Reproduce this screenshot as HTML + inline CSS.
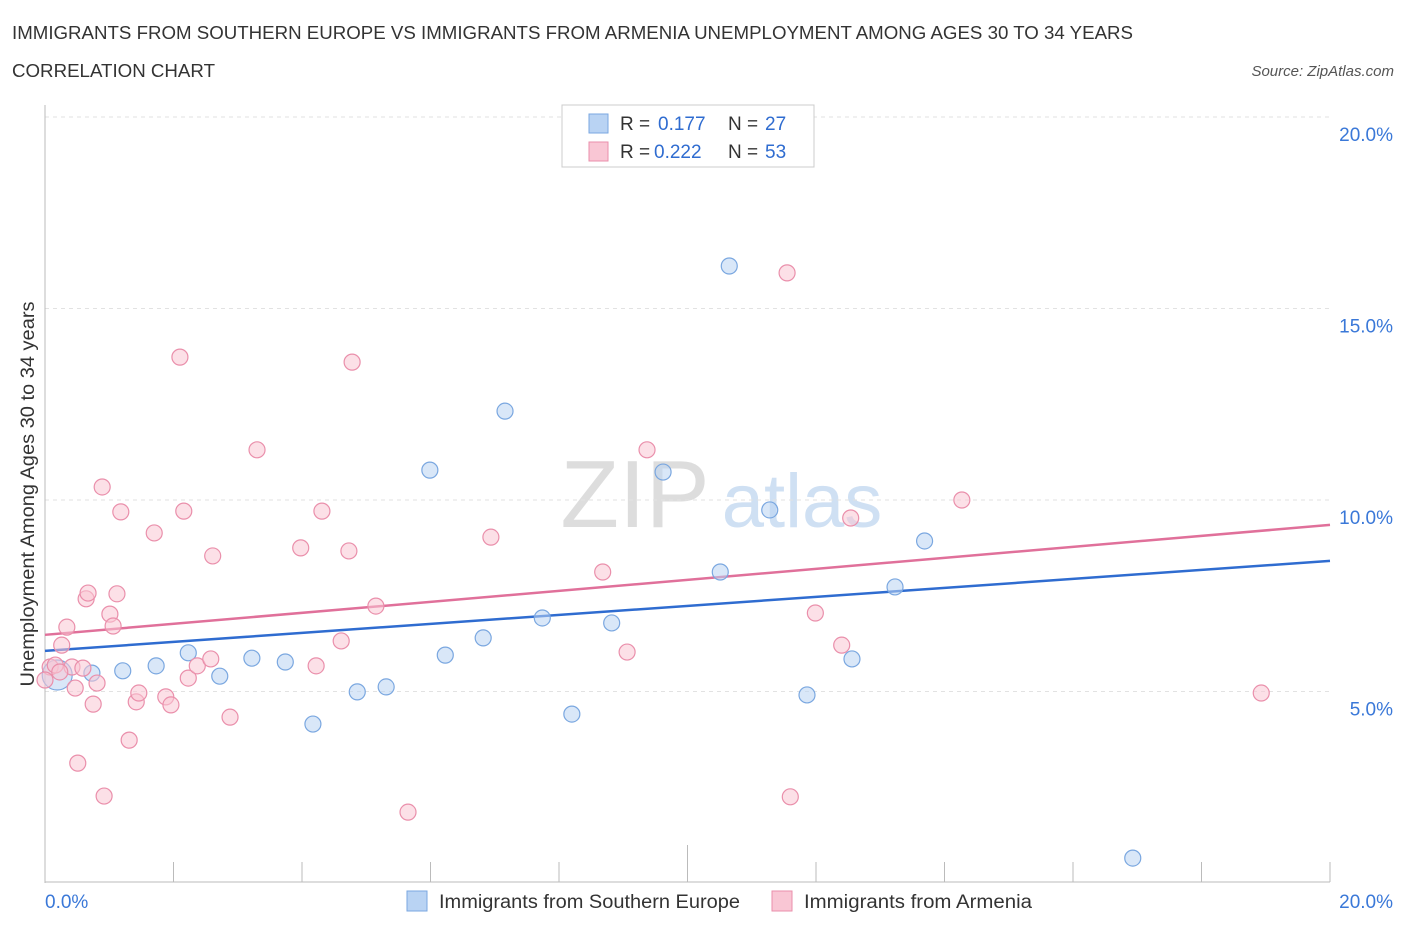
<!DOCTYPE html>
<html><head><meta charset="utf-8"><style>
body{margin:0;background:#fff;font-family:"Liberation Sans",sans-serif;}
svg text{font-family:"Liberation Sans",sans-serif;}
</style></head><body>
<svg id="chart" width="1406" height="930" xmlns="http://www.w3.org/2000/svg">
<text x="12" y="39" font-size="18" fill="#333" textLength="1121" lengthAdjust="spacingAndGlyphs">IMMIGRANTS FROM SOUTHERN EUROPE VS IMMIGRANTS FROM ARMENIA UNEMPLOYMENT AMONG AGES 30 TO 34 YEARS</text>
<text x="12" y="77" font-size="18" fill="#333" textLength="203" lengthAdjust="spacingAndGlyphs">CORRELATION CHART</text>
<text x="1394" y="76" font-size="15" fill="#555" font-style="italic" text-anchor="end">Source: ZipAtlas.com</text>
<g>
<text x="635" y="527" font-size="96" fill="#ddd" font-family="Liberation Serif,serif" text-anchor="middle">ZIP</text>
<text x="802" y="527" font-size="76" fill="#cfe0f3" text-anchor="middle">atlas</text>
</g>
<g id="grid"></g>
<g id="axes"></g>
<g id="lines"></g>
<g id="points"></g>
<text transform="translate(34,494) rotate(-90)" font-size="19" fill="#333" text-anchor="middle" textLength="385" lengthAdjust="spacingAndGlyphs">Unemployment Among Ages 30 to 34 years</text>
<g>
<rect x="562" y="105" width="252" height="62" fill="#fff" stroke="#ccc"/>
<rect x="589" y="114" width="19" height="19" fill="#b9d3f3" stroke="#7aa7e0"/>
<text x="620" y="130" font-size="19" fill="#333">R =</text>
<text x="658" y="130" font-size="19" fill="#2f6cd0">0.177</text>
<text x="728" y="130" font-size="19" fill="#333">N =</text>
<text x="765" y="130" font-size="19" fill="#2f6cd0">27</text>
<rect x="589" y="142" width="19" height="19" fill="#f9c6d4" stroke="#ea8fab"/>
<text x="620" y="158" font-size="19" fill="#333">R =</text>
<text x="654" y="158" font-size="19" fill="#2f6cd0">0.222</text>
<text x="728" y="158" font-size="19" fill="#333">N =</text>
<text x="765" y="158" font-size="19" fill="#2f6cd0">53</text>
</g>
<g>
<rect x="407" y="891" width="20" height="20" fill="#b9d3f3" stroke="#7aa7e0"/>
<text x="439" y="908" font-size="19" fill="#333" textLength="301" lengthAdjust="spacingAndGlyphs">Immigrants from Southern Europe</text>
<rect x="772" y="891" width="20" height="20" fill="#f9c6d4" stroke="#ea8fab"/>
<text x="804" y="908" font-size="19" fill="#333" textLength="228" lengthAdjust="spacingAndGlyphs">Immigrants from Armenia</text>
</g>
</svg>
<script>
const blueX=[0.19,0.73,1.21,1.73,2.23,2.72,3.22,3.74,4.17,4.86,5.31,5.99,6.23,6.82,7.16,7.74,8.20,8.82,9.62,10.51,10.65,11.28,11.86,12.56,13.23,13.69,16.93];
const blueY=[5.43,5.48,5.54,5.67,6.01,5.40,5.87,5.77,4.15,4.99,5.12,10.78,5.95,6.40,12.32,6.92,4.41,6.79,10.73,8.12,16.11,9.74,4.91,5.85,7.73,8.93,0.65];
const pinkX=[0.08,0.16,0.26,0.34,0.42,0.47,0.51,0.59,0.64,0.67,0.75,0.81,0.89,0.92,1.01,1.06,1.12,1.18,1.31,1.42,1.46,1.70,1.88,1.96,2.10,2.16,2.23,2.37,2.58,2.61,2.88,3.30,3.98,4.22,4.31,4.61,4.73,4.78,5.15,5.65,6.94,8.68,9.06,9.37,11.55,11.60,11.99,12.40,12.54,14.27,18.93,0.23,0];
const pinkY=[5.64,5.69,6.21,6.68,5.64,5.09,3.13,5.61,7.42,7.57,4.67,5.22,10.34,2.27,7.02,6.71,7.55,9.69,3.73,4.73,4.96,9.14,4.86,4.65,13.73,9.71,5.35,5.67,5.85,8.54,4.33,11.31,8.75,5.67,9.71,6.32,8.67,13.60,7.23,1.85,9.03,8.12,6.03,11.31,15.93,2.25,7.05,6.21,9.53,10.00,4.96,5.51,5.30];
const blueTrend=[6.06,8.41];
const pinkTrend=[6.48,9.35];
const yTicks=[5,10,15,20];
const yTickLabels=["5.0%","10.0%","15.0%","20.0%"];
const NS="http://www.w3.org/2000/svg";
const X=v=>45+v/20*1285;
const Y=v=>883-v/5*191.5;
function mk(tag,attrs,parent){const e=document.createElementNS(NS,tag);for(const k in attrs)e.setAttribute(k,attrs[k]);document.getElementById(parent).appendChild(e);return e;}
yTicks.forEach((t,i)=>{
 const g=mk('line',{x1:45,x2:1330,y1:Y(t),y2:Y(t),stroke:'#e2e2e2','stroke-dasharray':'4,4'},'grid');
 
 
 const l=mk('text',{x:1393,y:Y(t)+24,'font-size':19,fill:'#3a78d8','text-anchor':'end'},'axes');
 l.textContent=yTickLabels[i];
 
 
});
let a=mk('line',{x1:45,x2:45,y1:105,y2:883,stroke:'#bbb'},'axes');


a=mk('line',{x1:45,x2:1330,y1:882,y2:882,stroke:'#bbb'},'axes');


for(let i=1;i<=10;i++){
 const tk=mk('line',{x1:X(i*2),x2:X(i*2),y1:i==5?845:862,y2:882,stroke:'#bbb'},'axes');
 
 
}
let xl=mk('text',{x:45,y:908,'font-size':19,fill:'#3a78d8'},'axes');xl.textContent='0.0%';


xl=mk('text',{x:1393,y:908,'font-size':19,fill:'#3a78d8','text-anchor':'end'},'axes');xl.textContent='20.0%';


function pts(xs,ys,fill,stroke,name){
 xs.forEach((x,i)=>{
  const c=mk('circle',{cx:X(x),cy:Y(ys[i]),r:(name==='blue-point'&&i===0)?15:8,fill:fill,stroke:stroke,'stroke-width':1.2,'fill-opacity':0.55},'points');
  
  
 });
}
pts(blueX,blueY,'#b9d3f3','#7aa7e0','blue-point');
pts(pinkX,pinkY,'#f9c6d4','#ea8fab','pink-point');
let tl=mk('line',{x1:X(0),y1:Y(pinkTrend[0]),x2:X(20),y2:Y(pinkTrend[1]),stroke:'#e0709a','stroke-width':2.5},'lines');


tl=mk('line',{x1:X(0),y1:Y(blueTrend[0]),x2:X(20),y2:Y(blueTrend[1]),stroke:'#2f6cd0','stroke-width':2.5},'lines');


</script>
</body></html>
